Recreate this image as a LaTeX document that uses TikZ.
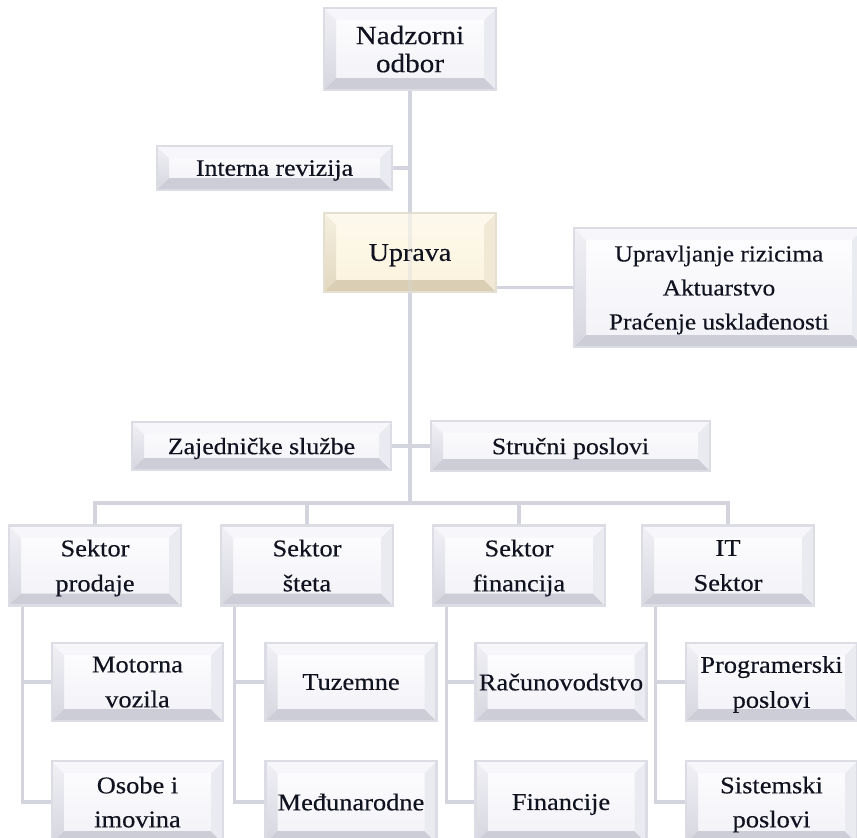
\documentclass[tikz,border=0pt]{standalone}
\usepackage{fontspec}
\setmainfont{Liberation Serif}[FakeStretch=1.1,FakeBold=0.4]
\usetikzlibrary{calc}
\pgfdeclarelayer{back}
\pgfdeclarelayer{bg}
\pgfsetlayers{back,bg,main}
\definecolor{txt}{HTML}{10121F}
\definecolor{lnc}{HTML}{D4D4DF}
\definecolor{frm}{HTML}{DCDCE4}
\definecolor{faceT}{HTML}{FEFEFF}
\definecolor{faceB}{HTML}{F1F1F7}
\definecolor{bvL}{HTML}{D6D6E0}
\definecolor{bvLt}{HTML}{F0F0F5}
\definecolor{bvB}{HTML}{CDCDD8}
\definecolor{bvR}{HTML}{EAEAF1}
\definecolor{bvT}{HTML}{F7F7FB}
\definecolor{cfrm}{HTML}{E5DFD2}
\definecolor{cfaceT}{HTML}{FEFAEE}
\definecolor{cfaceB}{HTML}{FBF2DC}
\definecolor{cbvL}{HTML}{E2D8BF}
\definecolor{cbvLt}{HTML}{F5EFE0}
\definecolor{cbvB}{HTML}{DACFB4}
\definecolor{cbvR}{HTML}{F1E9D6}
\definecolor{cbvT}{HTML}{FDF8EC}
\newcommand\mybevel[7]{%
  \path (path picture bounding box.south west) coordinate (pA)
        (path picture bounding box.north west) coordinate (pC)
        (path picture bounding box.north east) coordinate (pB)
        (path picture bounding box.south east) coordinate (pD);
  \shade[top color=#1,bottom color=#2] (pA) rectangle (pB);
  \shade[top color=#4,bottom color=#3] (pA) -- (pC) -- ($(pC)+(12pt,-12pt)$) -- ($(pA)+(12pt,12pt)$) -- cycle;
  \fill[#5] (pA) -- (pD) -- ($(pD)+(-12pt,12pt)$) -- ($(pA)+(12pt,12pt)$) -- cycle;
  \fill[#6] (pD) -- (pB) -- ($(pB)+(-12pt,-12pt)$) -- ($(pD)+(-12pt,12pt)$) -- cycle;
  \fill[#7] (pC) -- (pB) -- ($(pB)+(-12pt,-12pt)$) -- ($(pC)+(12pt,-12pt)$) -- cycle;
}
\tikzset{
  box/.style={draw=frm, line width=2.5pt, text=txt, align=center, inner sep=0pt, text depth=0pt,
    path picture={\mybevel{faceT}{faceB}{bvL}{bvLt}{bvB}{bvR}{bvT}}},
  cbox/.style={draw=cfrm, line width=2.5pt, text=txt, align=center, inner sep=0pt, text depth=0pt,
    path picture={\mybevel{cfaceT}{cfaceB}{cbvL}{cbvLt}{cbvB}{cbvR}{cbvT}}},
  conn/.style={draw=lnc, line width=3.2pt},
  sect/.style={box, minimum width=172pt, minimum height=80pt, font=\fontsize{24}{35}\selectfont},
  leaf/.style={box, minimum width=171pt, minimum height=78pt, font=\fontsize{24}{35}\selectfont},
  leafb/.style={box, minimum width=171pt, minimum height=82pt, font=\fontsize{24}{34}\selectfont},
}
\begin{document}
\begin{tikzpicture}[x=1pt, y=-1pt]
\useasboundingbox (0,0) rectangle (857,838);
\clip (0,0) rectangle (857,838);
\begin{pgfonlayer}{back}
  \fill[white] (0,0) rectangle (857,838);
\end{pgfonlayer}

\node[box, minimum width=172pt, minimum height=82pt, font=\fontsize{26.5}{28}\selectfont] (nad) at (410,49) {Nadzorni\\odbor};
\node[box, minimum width=235pt, minimum height=44pt, font=\fontsize{23.5}{28}\selectfont] (ir) at (274.5,168) {Interna revizija};
\node[cbox, minimum width=172pt, minimum height=79pt, font=\fontsize{25.5}{30}\selectfont] (up) at (410,252.5) {Uprava};
\node[box, minimum width=290pt, minimum height=119pt, font=\fontsize{23}{34}\selectfont] (rk) at (719,287.5) {Upravljanje rizicima\\Aktuarstvo\\Praćenje usklađenosti};
\node[box, minimum width=259pt, minimum height=48pt, font=\fontsize{23.5}{28}\selectfont] (zs) at (261.5,446) {Zajedničke službe};
\node[box, minimum width=279pt, minimum height=50pt, font=\fontsize{23.5}{28}\selectfont] (sp) at (570.5,446) {Stručni poslovi};

\node[sect] (s1) at (95,565.5) {Sektor\\prodaje};
\node[sect] (s2) at (307,565.5) {Sektor\\šteta};
\node[sect] (s3) at (519,565.5) {Sektor\\financija};
\node[sect] (s4) at (728,565.5) {IT\\Sektor};

\node[leaf] (l1a) at (137.5,682) {Motorna\\vozila};
\node[leafb] (l1b) at (137.5,802) {Osobe i\\imovina};
\node[leaf] (l2a) at (351,682) {Tuzemne};
\node[leafb] (l2b) at (351,802) {Međunarodne};
\node[leaf] (l3a) at (561,682) {Računovodstvo};
\node[leafb] (l3b) at (561,802) {Financije};
\node[leaf] (l4a) at (771.5,682) {Programerski\\poslovi};
\node[leafb] (l4b) at (771.5,802) {Sistemski\\poslovi};

\coordinate (bar) at (410,503);
\begin{pgfonlayer}{bg}
  \draw[conn] (nad.south) -- (nad.south |- bar);
  \draw[conn] (ir.east) -- (ir.east -| nad.south);
  \draw[conn] (rk.west) -- (rk.west -| up.east);
  \draw[conn] (zs.east) -- (sp.west);
  \draw[conn] (s1.north) -- (s1.north |- bar) -- (s4.north |- bar) -- (s4.north);
  \draw[conn] (s2.north) -- (s2.north |- bar);
  \draw[conn] (s3.north) -- (s3.north |- bar);
  \foreach \i in {1,2,3,4}{
    \coordinate (k\i) at ($(s\i.south west)+(15,0)$);
    \draw[conn] (k\i) |- (l\i a.west);
    \draw[conn] (k\i) |- (l\i b.west);
  }
\end{pgfonlayer}
\draw[conn, opacity=0.3] (up.north) -- (up.south);
\end{tikzpicture}
\end{document}
